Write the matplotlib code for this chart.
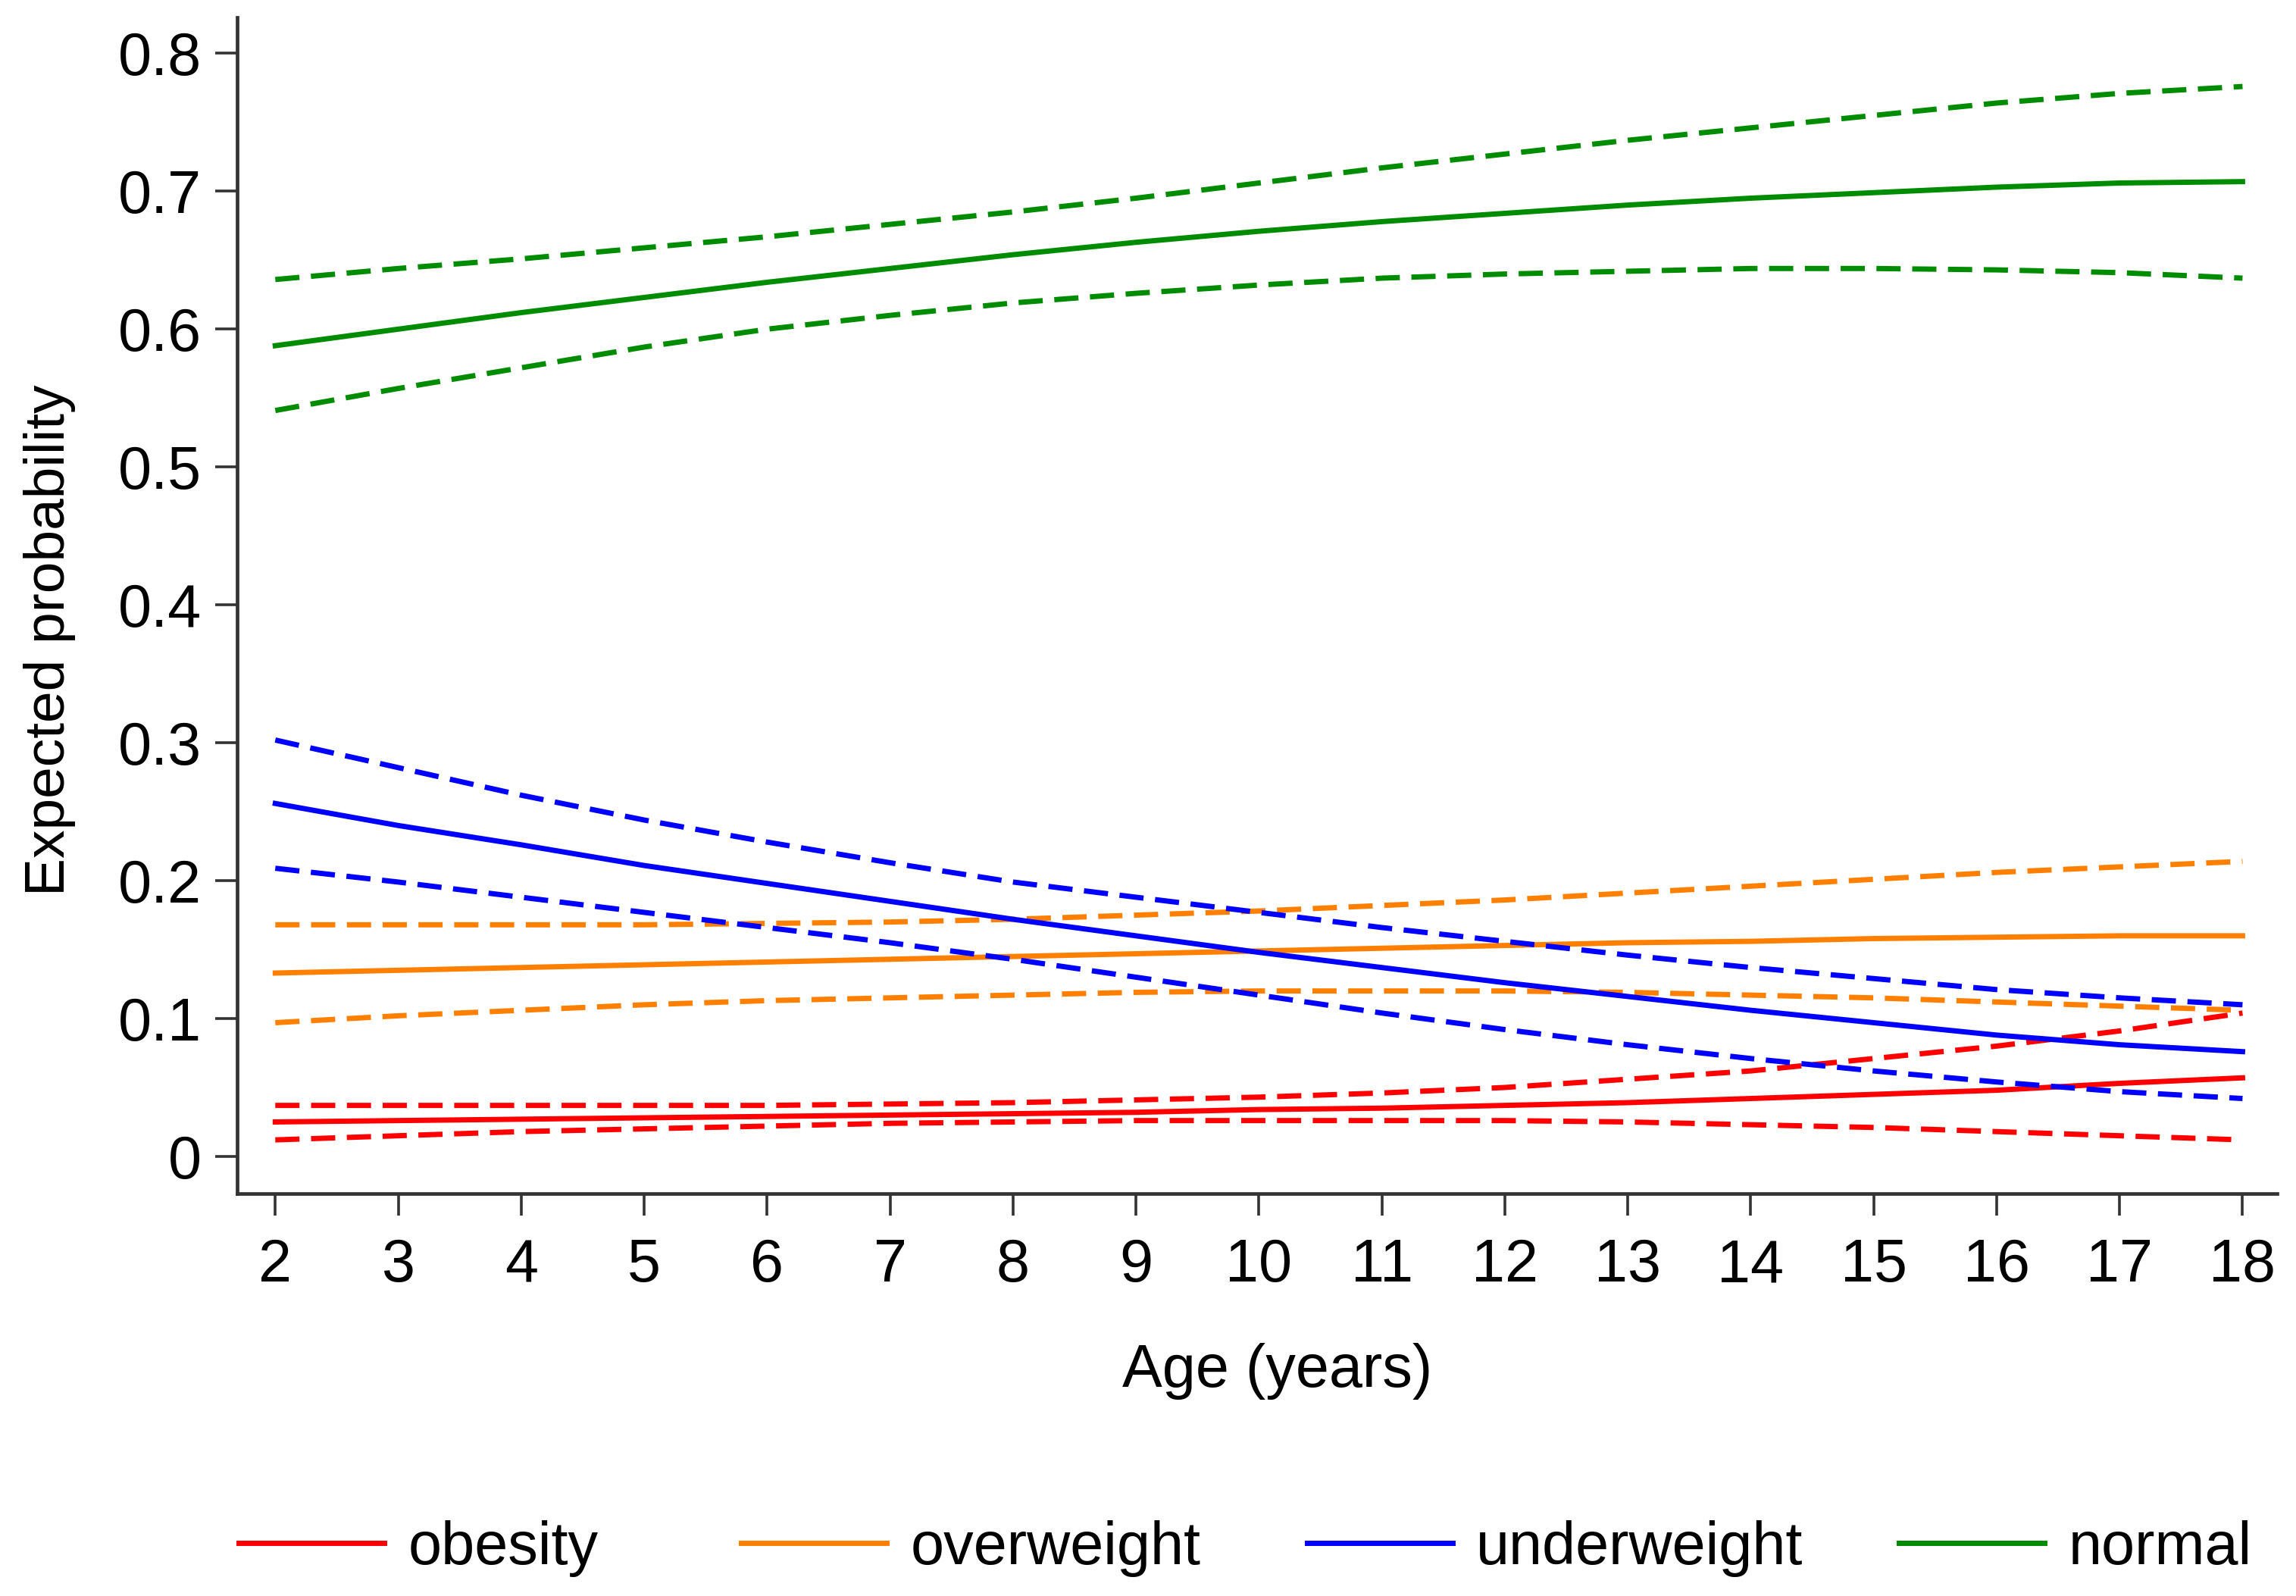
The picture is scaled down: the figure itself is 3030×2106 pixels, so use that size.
import matplotlib
matplotlib.use("Agg")
import matplotlib.pyplot as plt

plt.rcParams["font.family"] = ["Liberation Sans", "DejaVu Sans"]

# age in years
age = [2, 3, 4, 5, 6, 7, 8, 9, 10, 11, 12, 13, 14, 15, 16, 17, 18]

# expected probability with lower / upper bounds
obesity = [0.025, 0.026, 0.027, 0.028, 0.029, 0.030, 0.031, 0.032, 0.034,
           0.035, 0.037, 0.039, 0.042, 0.045, 0.048, 0.053, 0.057]
obesity_lo = [0.012, 0.015, 0.018, 0.020, 0.022, 0.024, 0.025, 0.026, 0.026,
              0.026, 0.026, 0.025, 0.023, 0.021, 0.018, 0.015, 0.012]
obesity_hi = [0.037, 0.037, 0.037, 0.037, 0.037, 0.038, 0.039, 0.041, 0.043,
              0.046, 0.050, 0.056, 0.062, 0.071, 0.080, 0.091, 0.104]

overweight = [0.133, 0.135, 0.137, 0.139, 0.141, 0.143, 0.145, 0.147, 0.149,
              0.151, 0.153, 0.155, 0.156, 0.158, 0.159, 0.160, 0.160]
overweight_lo = [0.097, 0.102, 0.106, 0.110, 0.113, 0.115, 0.117, 0.119, 0.120,
                 0.120, 0.120, 0.119, 0.117, 0.115, 0.112, 0.109, 0.106]
overweight_hi = [0.168, 0.168, 0.168, 0.168, 0.169, 0.170, 0.172, 0.175, 0.178,
                 0.182, 0.186, 0.191, 0.196, 0.201, 0.206, 0.210, 0.214]

underweight = [0.256, 0.240, 0.226, 0.211, 0.198, 0.185, 0.172, 0.160, 0.148,
               0.137, 0.126, 0.116, 0.106, 0.097, 0.088, 0.081, 0.076]
underweight_lo = [0.209, 0.199, 0.188, 0.177, 0.166, 0.155, 0.143, 0.130, 0.117,
                  0.104, 0.092, 0.081, 0.071, 0.062, 0.054, 0.047, 0.042]
underweight_hi = [0.302, 0.282, 0.262, 0.244, 0.228, 0.213, 0.199, 0.188, 0.177,
                  0.166, 0.156, 0.146, 0.137, 0.129, 0.121, 0.115, 0.110]

normal = [0.588, 0.600, 0.612, 0.623, 0.634, 0.644, 0.654, 0.663, 0.671,
          0.678, 0.684, 0.690, 0.695, 0.699, 0.703, 0.706, 0.707]
normal_lo = [0.541, 0.557, 0.572, 0.587, 0.600, 0.610, 0.619, 0.626, 0.632,
             0.637, 0.640, 0.642, 0.644, 0.644, 0.643, 0.641, 0.637]
normal_hi = [0.636, 0.644, 0.651, 0.659, 0.667, 0.676, 0.685, 0.695, 0.706,
             0.717, 0.727, 0.737, 0.746, 0.755, 0.764, 0.771, 0.776]

groups = ["obesity", "overweight", "underweight", "normal"]
colors = ["#ff0000", "#ff8000", "#0000ff", "#008c00"]
series = [
    (obesity, obesity_lo, obesity_hi),
    (overweight, overweight_lo, overweight_hi),
    (underweight, underweight_lo, underweight_hi),
    (normal, normal_lo, normal_hi),
]

fig = plt.figure(figsize=(15.15, 10.53), dpi=200)
ax = fig.add_axes([0.1033, 0.2521, 0.8884, 0.7369])

lw = 2.5
dash = (4.6, 2.2)
handles = []
for name, col, (mid, lo, hi) in zip(groups, colors, series):
    h, = ax.plot(age, mid, color=col, lw=lw, label=name)
    ax.plot(age, lo, color=col, lw=lw, dashes=dash)
    ax.plot(age, hi, color=col, lw=lw, dashes=dash)
    handles.append(h)

ax.set_xlim(1.69, 18.28)
ax.set_ylim(-0.027, 0.826)
ax.set_xticks(age)
ax.set_yticks([0, 0.1, 0.2, 0.3, 0.4, 0.5, 0.6, 0.7, 0.8])
ax.set_yticklabels(["0", "0.1", "0.2", "0.3", "0.4", "0.5", "0.6", "0.7", "0.8"])

for side in ["top", "right"]:
    ax.spines[side].set_visible(False)
for side in ["left", "bottom"]:
    ax.spines[side].set_linewidth(1.7)
    ax.spines[side].set_color("#333333")

ax.tick_params(axis="both", direction="out", length=10.5, width=1.3,
               labelsize=28.5, color="#333333")
ax.tick_params(axis="y", pad=6.5)
ax.tick_params(axis="x", pad=10.5)

ax.set_ylabel("Expected probability", fontsize=27, va="baseline")
ax.set_xlabel("Age (years)", fontsize=28.5, va="baseline")
ax.yaxis.set_label_coords(-0.0847, 0.4704)
ax.xaxis.set_label_coords(0.5098, -0.1643)

# legend entries laid out in one row under the plot
legend_x = [0.1040, 0.3228, 0.5693, 0.8271]
for h, x in zip(handles, legend_x):
    fig.legend(handles=[h], loc="center left", bbox_to_anchor=(x, 0.0299),
               frameon=False, fontsize=28.5, handlelength=2.42,
               handletextpad=0.4, borderpad=0, borderaxespad=0)

fig.savefig("out.png", dpi=200, facecolor="white")
